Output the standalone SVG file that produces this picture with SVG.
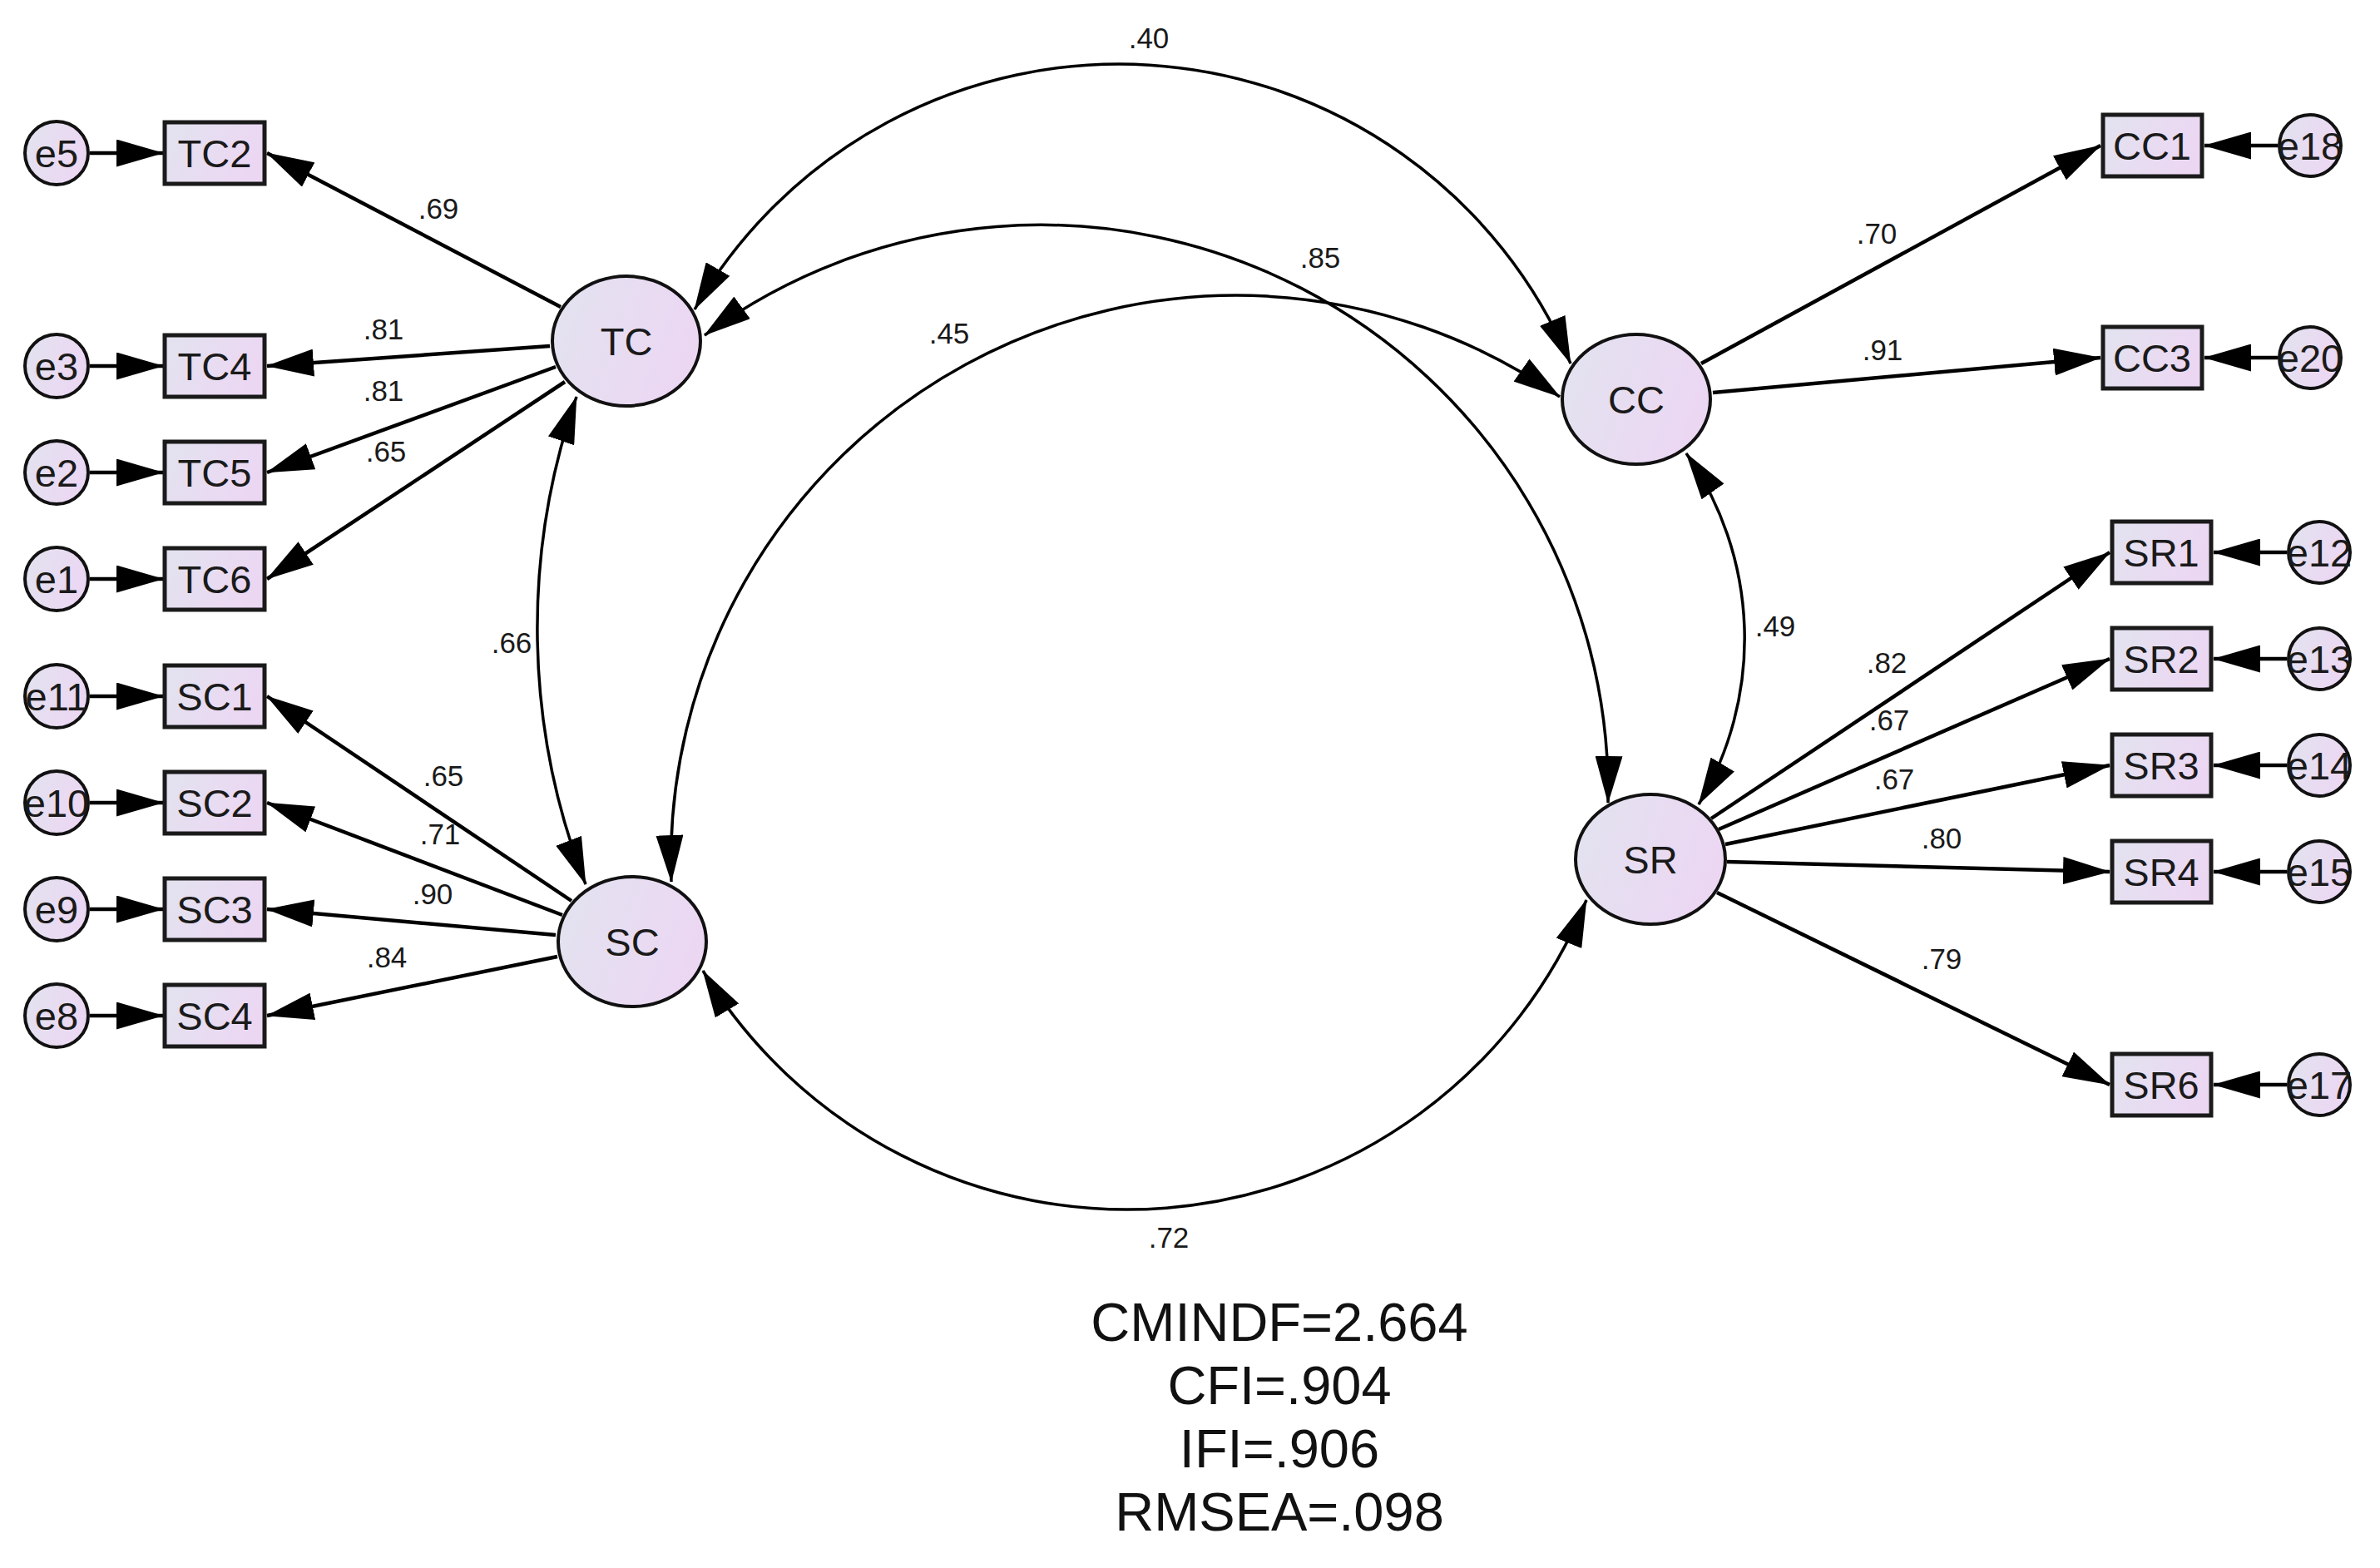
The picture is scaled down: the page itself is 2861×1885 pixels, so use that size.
<svg xmlns="http://www.w3.org/2000/svg" width="2861" height="1885" viewBox="0 0 2861 1885">
<defs>
<linearGradient id="fill" x1="0" y1="0" x2="1" y2="0.3">
<stop offset="0" stop-color="#e2e3ef"/>
<stop offset="1" stop-color="#ecd7f3"/>
</linearGradient>
<marker id="ah" viewBox="0 0 57 33" refX="56" refY="16.5" markerWidth="57" markerHeight="33" markerUnits="userSpaceOnUse" orient="auto-start-reverse">
<path d="M0,0 L57,16.5 L0,33 z" fill="#000"/>
</marker>
<style>
.lat{fill:url(#fill);stroke:#111;stroke-width:4}
.obs{fill:url(#fill);stroke:#1a1a1a;stroke-width:5}
.err{fill:url(#fill);stroke:#111;stroke-width:4}
.t{font-family:"Liberation Sans",Arial,sans-serif;font-size:47px;fill:#1a1a1a;text-anchor:middle}
.c{font-family:"Liberation Sans",Arial,sans-serif;font-size:35px;fill:#1a1a1a;text-anchor:middle}
.fit{font-family:"Liberation Sans",Arial,sans-serif;font-size:65px;fill:#111;text-anchor:middle}
.p{fill:none;stroke:#000;stroke-width:4.5;marker-end:url(#ah)}
.cov{fill:none;stroke:#000;stroke-width:3.5;marker-start:url(#ah);marker-end:url(#ah)}
</style>
</defs>
<rect width="2861" height="1885" fill="#fff"/>

<g id="connectors">
<!-- error to indicator, left -->
<path class="p" d="M108,184 L196,184"/>
<path class="p" d="M108,440 L196,440"/>
<path class="p" d="M108,568 L196,568"/>
<path class="p" d="M108,696 L196,696"/>
<path class="p" d="M108,837 L196,837"/>
<path class="p" d="M108,965 L196,965"/>
<path class="p" d="M108,1093 L196,1093"/>
<path class="p" d="M108,1221 L196,1221"/>
<!-- error to indicator, right -->
<path class="p" d="M2738,175 L2650,175"/>
<path class="p" d="M2738,430 L2650,430"/>
<path class="p" d="M2749,664 L2661,664"/>
<path class="p" d="M2749,792 L2661,792"/>
<path class="p" d="M2749,920 L2661,920"/>
<path class="p" d="M2749,1048 L2661,1048"/>
<path class="p" d="M2749,1304 L2661,1304"/>
<!-- TC loadings -->
<path class="p" d="M674,369 L321,184"/>
<path class="p" d="M661,416 L321,440"/>
<path class="p" d="M668,441 L321,568"/>
<path class="p" d="M679,459 L321,696"/>
<!-- SC loadings -->
<path class="p" d="M687,1083 L321,837"/>
<path class="p" d="M676,1100 L321,965"/>
<path class="p" d="M668,1124 L321,1093"/>
<path class="p" d="M670,1150 L321,1221"/>
<!-- CC loadings -->
<path class="p" d="M2045,437 L2525,175"/>
<path class="p" d="M2059,472 L2525,430"/>
<!-- SR loadings -->
<path class="p" d="M2057,984 L2536,664"/>
<path class="p" d="M2066,997 L2536,792"/>
<path class="p" d="M2074,1015 L2536,920"/>
<path class="p" d="M2076,1036 L2536,1048"/>
<path class="p" d="M2064,1073 L2536,1304"/>
<!-- covariances -->
<path class="cov" d="M835,372 A589,589 0 0 1 1888,437"/>
<path class="cov" d="M847,403 A682,682 0 0 1 1933,965"/>
<path class="cov" d="M807,1060 A680,680 0 0 1 1875,477"/>
<path class="cov" d="M845,1167 A596,596 0 0 0 1907,1082"/>
<path class="cov" d="M693,477 A845,845 0 0 0 704,1063"/>
<path class="cov" d="M2027,545 A388,388 0 0 1 2042,967"/>
</g>

<g id="labels">
<text class="c" x="527" y="263">.69</text>
<text class="c" x="461" y="408">.81</text>
<text class="c" x="461" y="482">.81</text>
<text class="c" x="464" y="555">.65</text>
<text class="c" x="615" y="785">.66</text>
<text class="c" x="533" y="945">.65</text>
<text class="c" x="529" y="1015">.71</text>
<text class="c" x="520" y="1087">.90</text>
<text class="c" x="465" y="1163">.84</text>
<text class="c" x="1381" y="58">.40</text>
<text class="c" x="1587" y="322">.85</text>
<text class="c" x="1141" y="413">.45</text>
<text class="c" x="2256" y="293">.70</text>
<text class="c" x="2263" y="433">.91</text>
<text class="c" x="2134" y="765">.49</text>
<text class="c" x="2268" y="809">.82</text>
<text class="c" x="2271" y="878">.67</text>
<text class="c" x="2277" y="949">.67</text>
<text class="c" x="2334" y="1020">.80</text>
<text class="c" x="2334" y="1165">.79</text>
<text class="c" x="1405" y="1500">.72</text>
</g>

<g id="TC"><ellipse class="lat" cx="753" cy="410" rx="89" ry="78"/><text class="t" x="753" y="427">TC</text></g>
<g id="SC"><ellipse class="lat" cx="760" cy="1132" rx="89" ry="78"/><text class="t" x="760" y="1149">SC</text></g>
<g id="CC"><ellipse class="lat" cx="1967" cy="480" rx="89" ry="78"/><text class="t" x="1967" y="497">CC</text></g>
<g id="SR"><ellipse class="lat" cx="1984" cy="1033" rx="90" ry="78"/><text class="t" x="1984" y="1050">SR</text></g>

<g id="TC2"><rect class="obs" x="198" y="147" width="120" height="74"/><text class="t" x="258" y="201">TC2</text></g>
<g id="TC4"><rect class="obs" x="198" y="403" width="120" height="74"/><text class="t" x="258" y="457">TC4</text></g>
<g id="TC5"><rect class="obs" x="198" y="531" width="120" height="74"/><text class="t" x="258" y="585">TC5</text></g>
<g id="TC6"><rect class="obs" x="198" y="659" width="120" height="74"/><text class="t" x="258" y="713">TC6</text></g>
<g id="SC1"><rect class="obs" x="198" y="800" width="120" height="74"/><text class="t" x="258" y="854">SC1</text></g>
<g id="SC2"><rect class="obs" x="198" y="928" width="120" height="74"/><text class="t" x="258" y="982">SC2</text></g>
<g id="SC3"><rect class="obs" x="198" y="1056" width="120" height="74"/><text class="t" x="258" y="1110">SC3</text></g>
<g id="SC4"><rect class="obs" x="198" y="1184" width="120" height="74"/><text class="t" x="258" y="1238">SC4</text></g>

<g id="CC1"><rect class="obs" x="2528" y="138" width="119" height="74"/><text class="t" x="2587" y="192">CC1</text></g>
<g id="CC3"><rect class="obs" x="2528" y="393" width="119" height="74"/><text class="t" x="2587" y="447">CC3</text></g>
<g id="SR1"><rect class="obs" x="2539" y="627" width="119" height="74"/><text class="t" x="2598" y="681">SR1</text></g>
<g id="SR2"><rect class="obs" x="2539" y="755" width="119" height="74"/><text class="t" x="2598" y="809">SR2</text></g>
<g id="SR3"><rect class="obs" x="2539" y="883" width="119" height="74"/><text class="t" x="2598" y="937">SR3</text></g>
<g id="SR4"><rect class="obs" x="2539" y="1011" width="119" height="74"/><text class="t" x="2598" y="1065">SR4</text></g>
<g id="SR6"><rect class="obs" x="2539" y="1267" width="119" height="74"/><text class="t" x="2598" y="1321">SR6</text></g>

<g id="e5"><circle class="err" cx="68" cy="184" r="38"/><text class="t" x="68" y="201">e5</text></g>
<g id="e3"><circle class="err" cx="68" cy="440" r="38"/><text class="t" x="68" y="457">e3</text></g>
<g id="e2"><circle class="err" cx="68" cy="568" r="38"/><text class="t" x="68" y="585">e2</text></g>
<g id="e1"><circle class="err" cx="68" cy="696" r="38"/><text class="t" x="68" y="713">e1</text></g>
<g id="e11"><circle class="err" cx="68" cy="837" r="38"/><text class="t" x="68" y="854">e11</text></g>
<g id="e10"><circle class="err" cx="68" cy="965" r="38"/><text class="t" x="68" y="982">e10</text></g>
<g id="e9"><circle class="err" cx="68" cy="1093" r="38"/><text class="t" x="68" y="1110">e9</text></g>
<g id="e8"><circle class="err" cx="68" cy="1221" r="38"/><text class="t" x="68" y="1238">e8</text></g>

<g id="e18"><circle class="err" cx="2777" cy="175" r="37"/><text class="t" x="2777" y="192">e18</text></g>
<g id="e20"><circle class="err" cx="2777" cy="430" r="37"/><text class="t" x="2777" y="447">e20</text></g>
<g id="e12"><circle class="err" cx="2788" cy="664" r="37"/><text class="t" x="2788" y="681">e12</text></g>
<g id="e13"><circle class="err" cx="2788" cy="792" r="37"/><text class="t" x="2788" y="809">e13</text></g>
<g id="e14"><circle class="err" cx="2788" cy="920" r="37"/><text class="t" x="2788" y="937">e14</text></g>
<g id="e15"><circle class="err" cx="2788" cy="1048" r="37"/><text class="t" x="2788" y="1065">e15</text></g>
<g id="e17"><circle class="err" cx="2788" cy="1304" r="37"/><text class="t" x="2788" y="1321">e17</text></g>

<g id="fit">
<text class="fit" x="1538" y="1612">CMINDF=2.664</text>
<text class="fit" x="1538" y="1688">CFI=.904</text>
<text class="fit" x="1538" y="1764">IFI=.906</text>
<text class="fit" x="1538" y="1840">RMSEA=.098</text>
</g>
</svg>
